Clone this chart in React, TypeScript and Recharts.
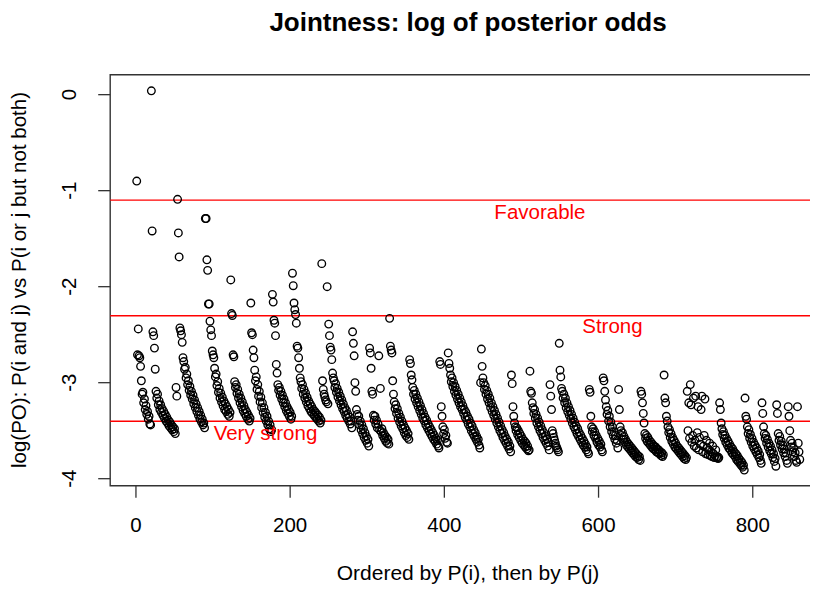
import {
  ScatterChart,
  Scatter,
  XAxis,
  YAxis,
  ReferenceLine,
  ReferenceArea,
  ReferenceDot,
} from 'recharts';

// log posterior odds, one array per run of the P(i) ordering
const run01 = [-0.90, -2.71, -2.44, -2.72, -2.74, -2.83, -2.98, -3.12, -3.10, -3.21, -3.17, -3.28, -3.24, -3.33, -3.30, -3.38, -3.35, -3.43, -3.44];
const run02 = [0.04, -1.42, -2.47, -2.51, -2.64, -2.86, -3.09, -3.16, -3.12, -3.23, -3.19, -3.28, -3.23, -3.31, -3.27, -3.34, -3.30, -3.37, -3.33, -3.40, -3.36, -3.42, -3.39, -3.45, -3.41, -3.47, -3.44, -3.49, -3.46, -3.51, -3.48, -3.53];
const run03 = [-3.05, -3.14, -1.09, -1.44, -1.69, -2.43, -2.46, -2.50, -2.58, -2.74, -2.78, -2.86, -2.84, -2.95, -2.91, -3.02, -2.98, -3.08, -3.04, -3.13, -3.09, -3.17, -3.13, -3.22, -3.18, -3.26, -3.22, -3.30, -3.26, -3.34, -3.30, -3.38, -3.34, -3.41, -3.38, -3.44, -3.42, -3.47];
const run04 = [-1.29, -1.29, -1.72, -1.83, -2.18, -2.18, -2.36, -2.45, -2.51, -2.67, -2.71, -2.74, -2.85, -2.94, -2.91, -3.03, -2.99, -3.10, -3.06, -3.16, -3.11, -3.20, -3.15, -3.24, -3.19, -3.28, -3.22, -3.30, -3.25, -3.33, -3.28, -3.35, -3.31];
const run05 = [-1.93, -2.28, -2.30, -2.71, -2.73, -2.99, -3.05, -3.02, -3.11, -3.07, -3.16, -3.12, -3.21, -3.16, -3.25, -3.20, -3.29, -3.24, -3.32, -3.28, -3.35, -3.31, -3.38, -3.34, -3.40, -3.37];
const run06 = [-2.17, -2.48, -2.50, -2.66, -2.74, -2.87, -2.98, -2.94, -3.07, -3.02, -3.14, -3.09, -3.20, -3.15, -3.26, -3.21, -3.31, -3.26, -3.36, -3.31, -3.40, -3.35, -3.44, -3.40, -3.48, -3.44, -3.51, -3.49];
const run07 = [-2.08, -2.16, -2.35, -2.38, -2.51, -2.81, -2.90, -3.02, -3.08, -3.05, -3.13, -3.09, -3.17, -3.13, -3.21, -3.17, -3.25, -3.21, -3.29, -3.25, -3.32, -3.28, -3.35, -3.31, -3.38, -3.35];
const run08 = [-1.86, -1.99, -2.17, -2.24, -2.29, -2.38, -2.62, -2.64, -2.74, -2.85, -2.95, -2.99, -3.06, -3.02, -3.12, -3.07, -3.16, -3.11, -3.20, -3.15, -3.24, -3.19, -3.27, -3.22, -3.30, -3.25, -3.32, -3.28, -3.34, -3.30, -3.36, -3.32, -3.38, -3.34, -3.40, -3.36, -3.42, -3.39];
const run09 = [-1.76, -2.98, -3.07, -3.12, -3.15, -3.18, -3.20, -2.00, -3.22, -2.39, -2.51, -2.63, -2.66, -2.76, -2.90, -2.95, -2.98, -3.05, -3.01, -3.10, -3.06, -3.15, -3.10, -3.19, -3.14, -3.23, -3.18, -3.27, -3.22, -3.30, -3.26, -3.34, -3.29, -3.37, -3.33, -3.40, -3.36, -3.43, -3.40, -3.47];
const run10 = [-2.47, -2.59, -2.72, -3.00, -3.09, -3.28, -3.33, -3.39, -3.35, -3.44, -3.40, -3.49, -3.44, -3.53, -3.48, -3.57, -3.52, -3.60, -3.56, -3.63, -3.59, -3.66];
const run11 = [-2.64, -2.69, -2.85, -3.09, -3.12, -3.34, -3.39, -3.35, -3.43, -3.39, -3.47, -3.43, -2.72, -3.49, -3.06, -3.51, -3.48, -3.55, -3.52, -3.58, -3.55, -3.61, -3.57, -3.63, -3.59, -3.64];
const run12 = [-2.33, -2.62, -2.66, -2.69, -2.98, -3.12, -3.20, -3.27, -3.23, -3.32, -3.27, -3.37, -3.32, -3.41, -3.36, -3.45, -3.40, -3.48, -3.44, -3.52, -3.47, -3.55, -3.50, -3.57, -3.53, -3.59];
const run13 = [-2.76, -2.80, -2.92, -2.97, -3.05, -3.12, -3.08, -3.17, -3.12, -3.21, -3.16, -3.25, -3.20, -3.29, -3.24, -3.33, -3.28, -3.37, -3.32, -3.40, -3.36, -3.44, -3.39, -3.47, -3.43, -3.50, -3.46, -3.53, -3.49, -3.56, -3.52, -3.59, -3.55, -3.61, -3.58, -3.64, -3.60, -3.66, -3.68];
const run14 = [-2.78, -2.81, -3.25, -3.35, -3.46, -3.53, -3.49, -3.58, -3.55, -3.62, -3.63];
const run15 = [-2.69, -2.80, -2.85, -2.92, -2.99, -2.95, -3.04, -3.00, -3.09, -3.04, -3.13, -3.08, -3.17, -3.12, -3.21, -3.16, -3.25, -3.20, -3.28, -3.24, -3.32, -3.28, -3.36, -3.31, -3.39, -3.35, -3.43, -3.38, -3.46, -3.42, -3.50, -3.45, -3.53, -3.49, -3.56, -3.52, -3.59, -3.56, -3.62, -3.59, -3.65, -3.68];
const run16 = [-3.00, -2.65, -2.83, -2.95, -3.00, -3.07, -3.03, -3.12, -3.08, -3.17, -3.12, -3.21, -3.16, -3.26, -3.21, -3.30, -3.25, -3.34, -3.29, -3.38, -3.33, -3.42, -3.37, -3.46, -3.41, -3.50, -3.45, -3.53, -3.49, -3.57, -3.52, -3.60, -3.56, -3.63, -3.59, -3.66, -3.62, -3.69, -3.66, -3.72];
const run17 = [-2.92, -3.01, -3.25, -3.35, -3.42, -3.46, -3.50, -3.47, -3.54, -3.50, -3.57, -3.53, -3.60, -3.56, -3.63, -3.59, -3.65, -3.61, -3.67, -3.63, -3.69, -3.66, -3.71, -3.70];
const run18 = [-2.88, -3.09, -3.11, -3.21, -3.26, -3.32, -3.28, -3.37, -3.33, -3.42, -3.37, -3.46, -3.41, -3.50, -3.45, -3.53, -3.49, -3.57, -3.52, -3.60, -3.56, -3.63, -3.59, -3.66, -3.62, -3.70];
const run19 = [-3.02, -3.14, -3.28, -3.50, -3.53, -3.57, -3.60, -3.63, -3.66, -3.68, -3.70, -3.72];
const run20 = [-2.59, -2.87, -2.94, -3.06, -3.09, -3.16, -3.12, -3.21, -3.16, -3.26, -3.21, -3.30, -3.25, -3.34, -3.29, -3.38, -3.33, -3.42, -3.37, -3.46, -3.41, -3.49, -3.45, -3.53, -3.48, -3.56, -3.52, -3.59, -3.55, -3.62, -3.58, -3.65, -3.61, -3.67, -3.64, -3.70, -3.67, -3.72, -3.74];
const run21 = [-3.07, -3.10, -3.35, -3.46, -3.51, -3.48, -3.55, -3.51, -3.58, -3.55, -3.62, -3.58, -3.65, -3.61, -3.67, -3.64, -3.70, -3.72];
const run22 = [-2.95, -2.98, -3.09, -3.18, -3.25, -3.33, -3.29, -3.40, -3.35, -3.46, -3.41, -3.51, -3.46, -3.55, -3.51, -3.59, -3.55, -3.63, -3.60, -3.68];
const run23 = [-3.07, -3.28, -3.46, -3.50, -3.55, -3.52, -3.59, -3.56, -3.62, -3.59, -3.65, -3.62, -3.67, -3.64, -3.69, -3.66, -3.71, -3.68, -3.73, -3.70, -3.75, -3.72, -3.77, -3.74, -3.78, -3.76, -3.80, -3.77, -3.81];
const run24 = [-3.09, -3.12, -3.21, -3.32, -3.42, -3.53, -3.58, -3.55, -3.61, -3.57, -3.63, -3.60, -3.65, -3.62, -3.67, -3.64, -3.69, -3.66, -3.70, -3.67, -3.72, -3.69, -3.73, -3.70, -3.74, -3.72, -3.76, -3.73, -3.77, -3.75];
const run25 = [-2.92, -3.16, -3.21, -3.35, -3.40, -3.46, -3.52, -3.49, -3.57, -3.53, -3.61, -3.57, -3.64, -3.60, -3.67, -3.63, -3.69, -3.66, -3.71, -3.68, -3.73, -3.70, -3.75, -3.72, -3.77, -3.74, -3.79, -3.76, -3.80, -3.78];
const run26 = [-3.09, -3.50, -3.21, -3.58, -3.02, -3.23, -3.62, -3.55, -3.16, -3.66, -3.60, -3.14, -3.68, -3.52, -3.25, -3.70, -3.57, -3.64, -3.28, -3.14, -3.72, -3.66, -3.55, -3.17, -3.74, -3.60, -3.68, -3.75, -3.70, -3.63, -3.76, -3.72, -3.77, -3.66, -3.74, -3.78, -3.76, -3.70, -3.78, -3.77, -3.79, -3.78];
const run27 = [-3.21, -3.28, -3.42, -3.48, -3.54, -3.51, -3.58, -3.55, -3.62, -3.58, -3.65, -3.61, -3.68, -3.64, -3.70, -3.67, -3.73, -3.69, -3.75, -3.72, -3.77, -3.74, -3.80, -3.76, -3.82, -3.79, -3.84, -3.81, -3.86, -3.83, -3.88, -3.86, -3.91];
const run28 = [-3.16, -3.35, -3.38, -3.46, -3.53, -3.49, -3.58, -3.54, -3.62, -3.58, -3.66, -3.62, -3.69, -3.65, -3.72, -3.68, -3.75, -3.71, -3.78, -3.75, -3.81, -3.84];
const run29 = [-3.21, -3.32, -3.46, -3.53, -3.58, -3.55, -3.63, -3.59, -3.67, -3.63, -3.71, -3.66, -3.74, -3.70, -3.78, -3.74, -3.82, -3.79, -3.87];
const run30 = [-3.23, -3.32, -3.53, -3.60, -3.56, -3.65, -3.61, -3.69, -3.65, -3.73, -3.69, -3.77, -3.73, -3.81, -3.84];
const run31 = [-3.25, -3.35, -3.50, -3.60, -3.67, -3.63, -3.72, -3.68, -3.77, -3.73, -3.81, -3.83];
const run32 = [-3.25, -3.63, -3.72, -3.80];

const runs = [
  run01, run02, run03, run04, run05, run06, run07, run08, run09, run10, run11,
  run12, run13, run14, run15, run16, run17, run18, run19, run20, run21, run22,
  run23, run24, run25, run26, run27, run28, run29, run30, run31, run32,
];

// evidence thresholds: log(1/3), log(1/10), log(1/30)
const thresholdNames = ['Favorable', 'Strong', 'Very strong'];
const thresholdValues = [-1.0986, -2.3026, -3.4012];

const xTicks = [0, 200, 400, 600, 800];
const yTicks = [0, -1, -2, -3, -4];

const points = runs.flat().map((y, i) => ({ x: i + 1, y }));

const FONT = '"Liberation Sans", Arial, sans-serif';
const X_DOMAIN: [number, number] = [-33.4, 895];
const Y_DOMAIN: [number, number] = [-4.073, 0.208];
// where the threshold names sit, in data units
const labelAnchors = [
  { x: 524, y: -1.295 },
  { x: 618, y: -2.4875 },
  { x: 168, y: -3.597 },
];

const Ring = (p: any) => (
  <circle cx={p.cx} cy={p.cy} r={3.8} fill="none" stroke="#000" strokeWidth={1.35} />
);

const XTick = (p: any) => (
  <text x={p.x} y={532} textAnchor="middle" fontSize={20.5} fontFamily={FONT} fill="#000">
    {p.payload.value}
  </text>
);

const YTick = (p: any) => (
  <text
    transform={`translate(76, ${p.y}) rotate(-90)`}
    textAnchor="middle"
    fontSize={20.5}
    fontFamily={FONT}
    fill="#000"
  >
    {p.payload.value}
  </text>
);

export default function App() {
  return (
    <div style={{ position: 'relative', width: 818, height: 593, overflow: 'hidden', margin: -8, background: '#fff' }}>
      <svg width={818} height={40} style={{ position: 'absolute', left: 0, top: 0 }}>
        <text x={468} y={31} textAnchor="middle" fontSize={26} fontWeight="bold" fontFamily={FONT} fill="#000">
          Jointness: log of posterior odds
        </text>
      </svg>
      <div style={{ position: 'absolute', left: 0, top: 0 }}>
        <ScatterChart
          width={840}
          height={593}
          margin={{ top: 74.7, right: 14, bottom: 47.3, left: 50.2 }}
        >
          <XAxis
            type="number"
            dataKey="x"
            domain={X_DOMAIN}
            allowDataOverflow
            ticks={xTicks}
            axisLine={false}
            tickLine={{ stroke: '#333', strokeWidth: 1.3 }}
            tickSize={12}
            tick={<XTick />}
            height={60}
            label={{
              content: () => (
                <text x={468} y={580} textAnchor="middle" fontSize={21} fontFamily={FONT} fill="#000">
                  Ordered by P(i), then by P(j)
                </text>
              ),
            }}
          />
          <YAxis
            type="number"
            dataKey="y"
            domain={Y_DOMAIN}
            allowDataOverflow
            ticks={yTicks}
            axisLine={false}
            tickLine={{ stroke: '#333', strokeWidth: 1.3 }}
            tickSize={12}
            tick={<YTick />}
            width={60}
            label={{
              content: () => (
                <text
                  transform="translate(26, 280) rotate(-90)"
                  textAnchor="middle"
                  fontSize={20.5}
                  fontFamily={FONT}
                  fill="#000"
                >
                  log(PO): P(i and j) vs P(i or j but not both)
                </text>
              ),
            }}
          />
          <ReferenceArea
            x1={X_DOMAIN[0]}
            x2={X_DOMAIN[1]}
            y1={Y_DOMAIN[0]}
            y2={Y_DOMAIN[1]}
            fill="none"
            stroke="#333"
            strokeWidth={1.4}
            ifOverflow="visible"
          />
          {thresholdValues.map((v) => (
            <ReferenceLine key={v} y={v} stroke="#ff0000" strokeWidth={1.4} />
          ))}
          <Scatter data={points} shape={<Ring />} isAnimationActive={false} />
          {thresholdNames.map((name, i) => (
            <ReferenceDot
              key={name}
              x={labelAnchors[i].x}
              y={labelAnchors[i].y}
              r={0}
              ifOverflow="visible"
              shape={(p: any) => (
                <text x={p.cx} y={p.cy} textAnchor="middle" fontSize={20.5} fontFamily={FONT} fill="#ff0000">
                  {name}
                </text>
              )}
            />
          ))}
        </ScatterChart>
      </div>
    </div>
  );
}
